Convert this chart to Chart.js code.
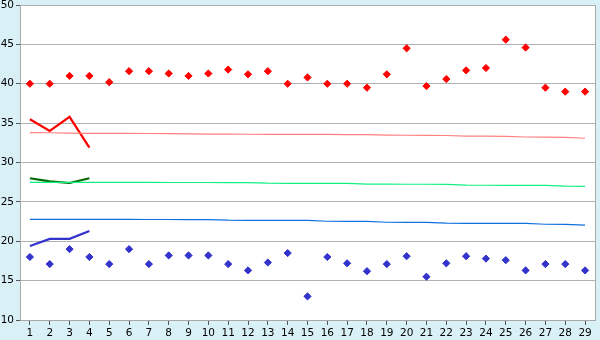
<!DOCTYPE html>
<html>
<head>
<meta charset="utf-8">
<script src="https://cdn.jsdelivr.net/npm/chart.js@4/dist/chart.umd.min.js"></script>
<style>
  html, body { margin: 0; padding: 0; background: #daf0f7; }
  canvas { display: block; }
</style>
</head>
<body>
<canvas id="chart" width="600" height="340"></canvas>
<script>
const days = ['1','2','3','4','5','6','7','8','9','10','11','12','13','14','15','16','17','18','19','20','21','22','23','24','25','26','27','28','29'];

const highPoints = [40.0, 40.0, 41.0, 41.0, 40.2, 41.6, 41.6, 41.3, 41.0, 41.3, 41.8, 41.2, 41.6, 40.0, 40.8, 40.0, 40.0, 39.5, 41.2, 44.5, 39.7, 40.6, 41.7, 42.0, 45.6, 44.6, 39.5, 39.0, 39.0];
const lowPoints = [18.0, 17.1, 19.0, 18.0, 17.1, 19.0, 17.1, 18.2, 18.2, 18.2, 17.1, 16.3, 17.3, 18.5, 13.0, 18.0, 17.2, 16.2, 17.1, 18.1, 15.5, 17.2, 18.1, 17.8, 17.6, 16.3, 17.1, 17.1, 16.3];

const highTrend = [33.8, 33.78, 33.72, 33.71, 33.7, 33.69, 33.68, 33.67, 33.63, 33.6, 33.6, 33.59, 33.58, 33.57, 33.57, 33.56, 33.55, 33.54, 33.48, 33.46, 33.45, 33.43, 33.36, 33.34, 33.32, 33.24, 33.22, 33.2, 33.08];
const midTrend = [27.48, 27.48, 27.48, 27.48, 27.47, 27.47, 27.47, 27.46, 27.46, 27.46, 27.45, 27.44, 27.37, 27.36, 27.36, 27.35, 27.35, 27.26, 27.25, 27.24, 27.24, 27.23, 27.12, 27.11, 27.1, 27.1, 27.09, 26.99, 26.98];
const lowTrend = [22.78, 22.78, 22.78, 22.77, 22.77, 22.77, 22.76, 22.76, 22.75, 22.74, 22.67, 22.66, 22.66, 22.65, 22.64, 22.54, 22.53, 22.52, 22.41, 22.4, 22.39, 22.29, 22.28, 22.28, 22.27, 22.26, 22.16, 22.15, 22.04];

const highRecent = [35.5, 34.0, 35.8, 31.9];
const midRecent = [28.0, 27.6, 27.4, 28.0];
const lowRecent = [19.4, 20.3, 20.3, 21.3];

const yTicks = [10, 15, 20, 25, 30, 35, 40, 45, 50];

// fond bleu clair + zone de tracé blanche + cadre gris
const framePlugin = {
    id: 'frame',
    beforeDraw(chart) {
        const { ctx, chartArea: a } = chart;
        ctx.save();
        ctx.fillStyle = '#daf0f7';
        ctx.fillRect(0, 0, chart.width, chart.height);
        ctx.fillStyle = '#ffffff';
        ctx.fillRect(a.left, a.top, a.right - a.left, a.bottom - a.top);
        ctx.restore();
    },
    afterDatasetsDraw(chart) {
        const { ctx, chartArea: a } = chart;
        ctx.save();
        ctx.strokeStyle = '#a8a8a8';
        ctx.lineWidth = 1;
        ctx.beginPath();
        ctx.moveTo(Math.round(a.right) + 0.5, a.top);
        ctx.lineTo(Math.round(a.right) + 0.5, a.bottom);
        ctx.stroke();
        ctx.restore();
    }
};

function thinLine(data, color) {
    return {
        data: data,
        borderColor: color,
        borderWidth: 1.2,
        pointRadius: 0,
        tension: 0,
        fill: false
    };
}

function thickLine(data, color) {
    return {
        data: data,
        borderColor: color,
        borderWidth: 2.2,
        pointRadius: 0,
        tension: 0,
        fill: false
    };
}

function dots(data, color) {
    return {
        data: data,
        showLine: false,
        pointStyle: 'rectRot',
        pointRadius: 3.6,
        pointBackgroundColor: color,
        pointBorderColor: color,
        pointBorderWidth: 1
    };
}

new Chart(document.getElementById('chart'), {
    type: 'line',
    data: {
        labels: days,
        datasets: [
            thinLine(highTrend, '#ff8080'),
            thinLine(midTrend, '#10f080'),
            thinLine(lowTrend, '#1070e0'),
            thickLine(highRecent, '#ff0000'),
            thickLine(midRecent, '#006a00'),
            thickLine(lowRecent, '#3333cc'),
            dots(highPoints, '#ff0000'),
            dots(lowPoints, '#3333cc')
        ]
    },
    options: {
        responsive: false,
        animation: false,
        devicePixelRatio: 1,
        layout: { padding: { top: 5, right: 5, left: 0, bottom: 0 } },
        plugins: {
            legend: { display: false },
            tooltip: { enabled: false }
        },
        scales: {
            x: {
                offset: true,
                grid: { drawOnChartArea: false, drawTicks: true, tickLength: 5, color: '#555555' },
                border: { color: '#a8a8a8' },
                ticks: {
                    color: '#000000',
                    font: { family: 'DejaVu Sans', size: 10.5 },
                    padding: 2,
                    maxRotation: 0,
                    autoSkip: false
                },
                afterFit(scale) {
                    scale.height = 20;
                    scale.paddingLeft = 0;
                    scale.paddingRight = 0;
                }
            },
            y: {
                min: 10,
                max: 50,
                afterBuildTicks(scale) { scale.ticks = yTicks.map(v => ({ value: v })); },
                grid: { color: '#b0b0b0', tickLength: 4, tickColor: '#555555' },
                border: { color: '#a8a8a8' },
                ticks: {
                    color: '#000000',
                    font: { family: 'DejaVu Sans', size: 10.5 },
                    padding: 2
                },
                afterFit(scale) {
                    scale.width = 20;
                    scale.paddingTop = 0;
                    scale.paddingBottom = 0;
                }
            }
        }
    },
    plugins: [framePlugin]
});
</script>
</body>
</html>
